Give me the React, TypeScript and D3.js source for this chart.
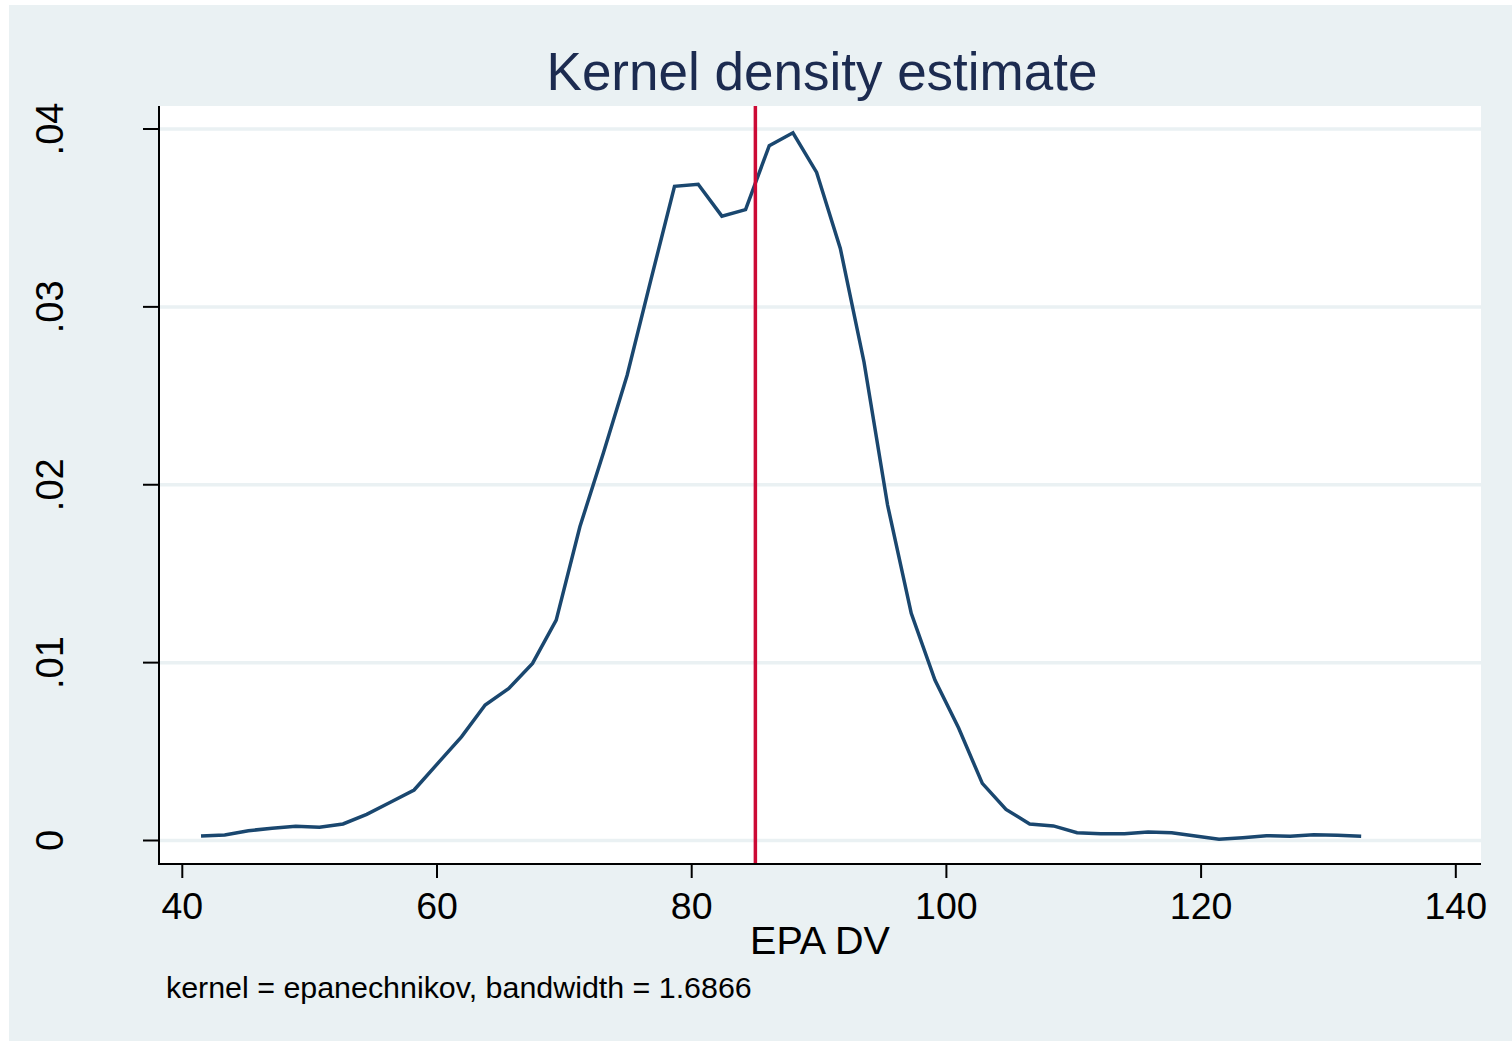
import * as d3 from 'd3';
import React from 'react';

// kernel density estimate (50 evaluation points)
const xs = [
  41.47, 43.33, 45.19, 47.05, 48.91, 50.77, 52.62, 54.48, 56.34, 58.2,
  60.06, 61.92, 63.78, 65.64, 67.5, 69.36, 71.22, 73.07, 74.93, 76.79,
  78.65, 80.51, 82.37, 84.23, 86.09, 87.95, 89.81, 91.67, 93.53, 95.38,
  97.24, 99.1, 100.96, 102.82, 104.68, 106.54, 108.4, 110.26, 112.12, 113.98,
  115.84, 117.69, 119.55, 121.41, 123.27, 125.13, 126.99, 128.85, 130.71, 132.57,
];
const density = [
  0.00025, 0.00031, 0.00055, 0.00069, 0.0008, 0.00074, 0.00093, 0.00147, 0.00215, 0.00284,
  0.00434, 0.00583, 0.00762, 0.00855, 0.00996, 0.01239, 0.01764, 0.0218, 0.02616, 0.0315,
  0.03678, 0.03689, 0.0351, 0.03547, 0.03906, 0.03979, 0.03756, 0.03329, 0.0269, 0.01886,
  0.01277, 0.00902, 0.00632, 0.00321, 0.00175, 0.00093, 0.00082, 0.00044, 0.00038, 0.00038,
  0.00048, 0.00044, 0.00025, 0.00007, 0.00016, 0.00027, 0.00024, 0.00033, 0.00029, 0.00024,
];
const xTicks = [40, 60, 80, 100, 120, 140];
const yTicks = [0, 0.01, 0.02, 0.03, 0.04];
const yTickLabels = ['0', '.01', '.02', '.03', '.04'];
const refLine = 85;

const titleText = 'Kernel density estimate';
const xTitle = 'EPA DV';
const noteText = 'kernel = epanechnikov, bandwidth = 1.6866';

const W = 1512;
const H = 1041;
const plot = { left: 158, right: 1481, top: 106, bottom: 864 };
const font = 'Arial, "Liberation Sans", Helvetica, sans-serif';

const App = () => {
  const x = d3.scaleLinear().domain([40, 140]).range([182.3, 1455.8]);
  const y = d3.scaleLinear().domain([0, 0.04]).range([840.5, 129]);

  const pts: [number, number][] = xs.map((v, i) => [v, density[i]]);
  const line = d3.line<[number, number]>()
    .x(d => x(d[0]))
    .y(d => y(d[1]));

  return (
    <svg width={W} height={H} style={{ position: 'absolute', left: 0, top: 0, display: 'block' }}
      fontFamily={font}>
      <rect x={0} y={0} width={W} height={H} fill="#ffffff" />
      <rect x={9} y={5} width={W - 9} height={H - 5} fill="#eaf1f3" />
      <rect x={plot.left} y={plot.top} width={plot.right - plot.left} height={plot.bottom - plot.top} fill="#ffffff" />

      {/* grid */}
      {yTicks.map(t => (
        <line key={'g' + t} x1={plot.left} x2={plot.right} y1={y(t)} y2={y(t)}
          stroke="#eaf1f3" strokeWidth={3.5} />
      ))}

      {/* density curve */}
      <path d={line(pts) || ''} fill="none" stroke="#1a476f" strokeWidth={3.5} strokeLinejoin="miter" />

      {/* reference line */}
      <line x1={x(refLine)} x2={x(refLine)} y1={plot.top} y2={plot.bottom} stroke="#cc0a35" strokeWidth={3.5} />

      {/* axes */}
      <line x1={plot.left + 1} x2={plot.left + 1} y1={plot.top} y2={plot.bottom} stroke="#000" strokeWidth={2} />
      <line x1={plot.left} x2={plot.right} y1={plot.bottom} y2={plot.bottom} stroke="#000" strokeWidth={2} />

      {yTicks.map((t, i) => (
        <g key={'y' + t}>
          <line x1={143} x2={plot.left} y1={y(t)} y2={y(t)} stroke="#000" strokeWidth={2} />
          <text transform={`translate(63,${y(t)}) rotate(-90)`} textAnchor="middle" fontSize={38} fill="#000">
            {yTickLabels[i]}
          </text>
        </g>
      ))}

      {xTicks.map(t => (
        <g key={'x' + t}>
          <line x1={x(t)} x2={x(t)} y1={plot.bottom} y2={878} stroke="#000" strokeWidth={2} />
          <text x={x(t)} y={919} textAnchor="middle" fontSize={37.5} fill="#000">{t}</text>
        </g>
      ))}

      <text x={820} y={954} textAnchor="middle" fontSize={39.5} fill="#000">{xTitle}</text>
      <text x={822} y={90} textAnchor="middle" fontSize={53} fill="#1c2b50">{titleText}</text>
      <text x={166} y={998} fontSize={30.4} fill="#000">{noteText}</text>
    </svg>
  );
};

export default App;
